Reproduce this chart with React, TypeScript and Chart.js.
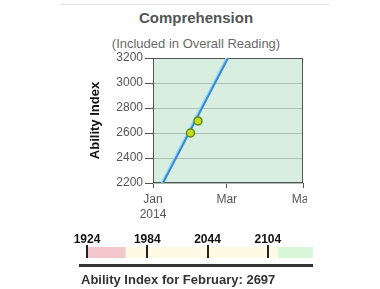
import React, { useEffect, useRef } from "react";
import { Chart, registerables } from "chart.js";
Chart.register(...registerables);

const xTickDays = [0, 59, 120];
const xTickLabels: (string | string[])[] = [["Jan", "2014"], "Mar", "May"];
const yTicks = [2200, 2400, 2600, 2800, 3000, 3200];
const scoreDays = [30, 36];
const scoreValues = [2600, 2697];
const trendDays = [8, 60];
const trendValues = [2200, 3200];

const bandTicks = [1924, 1984, 2044, 2104];
const bandRanges = [
  [1924, 1962],
  [1962, 2114],
  [2114, 2149],
];
const bandColors = ["#f3c6cb", "#fdfbe3", "#d8f6d8"];

const FONT = "Arial, 'Liberation Sans', sans-serif";

const framePlugin = {
  id: "frame",
  beforeDraw(chart: any) {
    const { ctx, chartArea: a } = chart;
    ctx.save();
    ctx.fillStyle = "#d7eee1";
    ctx.fillRect(a.left, a.top, a.right - a.left, a.bottom - a.top);
    ctx.restore();
  },
  beforeDatasetsDraw(chart: any) {
    const { ctx, chartArea: a } = chart;
    ctx.save();
    ctx.strokeStyle = "#555";
    ctx.lineWidth = 1;
    ctx.strokeRect(a.left + 0.5, a.top + 0.5, a.right - a.left - 1, a.bottom - a.top - 1);
    ctx.restore();
  },
};

export default function App() {
  const mainRef = useRef<HTMLCanvasElement>(null);
  const bandRef = useRef<HTMLCanvasElement>(null);

  useEffect(() => {
    const main = new Chart(mainRef.current!, {
      type: "line",
      data: {
        datasets: [
          {
            data: scoreDays.map((d, i) => ({ x: d, y: scoreValues[i] })),
            showLine: false,
            pointRadius: 4,
            pointBackgroundColor: "#c4dc22",
            pointBorderColor: "#5d8a12",
            pointBorderWidth: 1.5,
            order: 0,
          },
          {
            data: trendDays.map((d, i) => ({ x: d, y: trendValues[i] })),
            borderColor: "#3a88d4",
            borderWidth: 2,
            pointRadius: 0,
            order: 1,
          },
          {
            data: trendDays.map((d, i) => ({ x: d - 0.8, y: trendValues[i] })),
            borderColor: "#9adaf6",
            borderWidth: 3,
            pointRadius: 0,
            order: 2,
          },
        ],
      },
      options: {
        responsive: false,
        animation: false,
        layout: { padding: { left: 88, right: 77, top: 58, bottom: 0 } },
        plugins: {
          legend: { display: false },
          tooltip: { enabled: false },
        },
        scales: {
          x: {
            type: "linear",
            min: 0,
            max: 120,
            afterBuildTicks: (s: any) => {
              s.ticks = xTickDays.map((v) => ({ value: v }));
            },
            afterFit: (s: any) => {
              s.height = 40;
            },
            ticks: {
              callback: (_v: any, i: number) => xTickLabels[i],
              color: "#555",
              font: { size: 12, family: FONT, lineHeight: 1.25 },
              maxRotation: 0,
              autoSkip: false,
              padding: 4,
            },
            grid: { drawOnChartArea: false, tickLength: 5, tickColor: "#555" },
            border: { display: false },
          },
          y: {
            min: 2200,
            max: 3200,
            afterBuildTicks: (s: any) => {
              s.ticks = yTicks.map((v) => ({ value: v }));
            },
            afterFit: (s: any) => {
              s.width = 65;
            },
            ticks: {
              color: "#555",
              font: { size: 12, family: FONT },
              padding: 2,
              callback: (v: any) => String(v),
            },
            grid: { color: "#a9c0b2", tickLength: 8, tickColor: "#555" },
            border: { display: false },
            title: {
              display: true,
              text: "Ability Index",
              color: "#111",
              font: { size: 13, weight: "bold", family: FONT },
              padding: 0,
            },
          },
        },
      } as any,
      plugins: [framePlugin],
    });

    const band = new Chart(bandRef.current!, {
      type: "bar",
      data: {
        labels: ["band"],
        datasets: bandRanges.map((r, i) => ({
          data: [r as any],
          backgroundColor: bandColors[i],
          borderWidth: 0,
          grouped: false,
          barPercentage: 1,
          categoryPercentage: 1,
        })),
      },
      options: {
        indexAxis: "y",
        responsive: false,
        animation: false,
        layout: { padding: { left: 80, right: 67, top: 15, bottom: 4 } },
        plugins: { legend: { display: false }, tooltip: { enabled: false } },
        scales: {
          x: {
            type: "linear",
            position: "top",
            min: 1917,
            max: 2149,
            afterBuildTicks: (s: any) => {
              s.ticks = bandTicks.map((v) => ({ value: v }));
            },
            afterFit: (s: any) => {
              s.height = 16;
            },
            ticks: {
              callback: (v: any) => String(v),
              color: "#111",
              font: { size: 12, weight: "bold", family: FONT },
              padding: -2,
              autoSkip: false,
              maxRotation: 0,
            },
            grid: { color: "#222", lineWidth: 2, tickLength: 2, tickColor: "#222", z: 1 },
            border: { display: false },
          },
          y: { display: false },
        },
      } as any,
    });

    return () => {
      main.destroy();
      band.destroy();
    };
  }, []);

  return (
    <div
      style={{
        position: "fixed",
        left: 0,
        top: 0,
        width: 380,
        height: 289,
        background: "#fff",
        overflow: "hidden",
        fontFamily: FONT,
      }}
    >
      <div style={{ position: "absolute", left: 60, top: 4, width: 270, height: 1, background: "#e4e4e4" }} />
      <div
        style={{
          position: "absolute",
          left: 96,
          top: 8,
          width: 200,
          textAlign: "center",
          fontSize: 15,
          fontWeight: "bold",
          color: "#555",
          lineHeight: "20px",
        }}
      >
        Comprehension
      </div>
      <div
        style={{
          position: "absolute",
          left: 56,
          top: 36,
          width: 280,
          textAlign: "center",
          fontSize: 13,
          color: "#6a6a6a",
          lineHeight: "16px",
        }}
      >
        (Included in Overall Reading)
      </div>
      <div style={{ position: "absolute", left: 0, top: 0, width: 307, height: 230, overflow: "hidden" }}>
        <canvas ref={mainRef} width={380} height={223} style={{ display: "block" }} />
      </div>
      <canvas
        ref={bandRef}
        width={380}
        height={46}
        style={{ display: "block", position: "absolute", left: 0, top: 216 }}
      />
      <div style={{ position: "absolute", left: 79, top: 264, width: 234, height: 3, background: "#333" }} />
      <div
        style={{
          position: "absolute",
          left: 81,
          top: 272,
          fontSize: 13,
          fontWeight: "bold",
          color: "#333",
          lineHeight: "16px",
          whiteSpace: "nowrap",
        }}
      >
        Ability Index for February: 2697
      </div>
    </div>
  );
}
